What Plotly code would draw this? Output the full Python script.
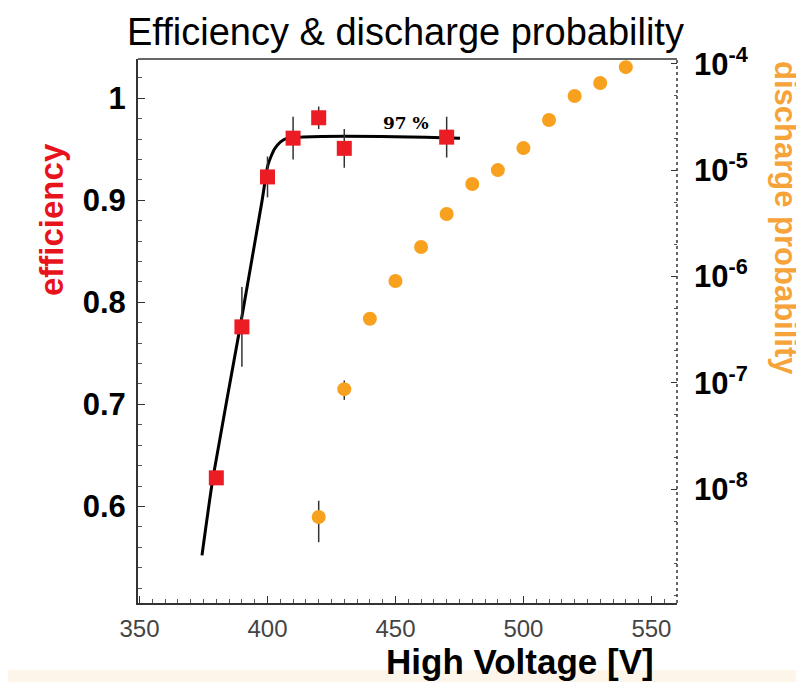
import plotly.graph_objects as go

# ---- data ----
hv_eff = [380, 390, 400, 410, 420, 430, 470]
efficiency = [0.628, 0.776, 0.923, 0.961, 0.981, 0.951, 0.962]
eff_err = [0.005, 0.039, 0.02, 0.021, 0.011, 0.019, 0.02]

hv_fit = [374.4, 378.7, 389.3, 397.9, 400.2, 402.9, 406.8, 475.2]
eff_fit = [0.552, 0.628, 0.776, 0.900, 0.935, 0.951, 0.960, 0.961]

hv_dis = [420, 430, 440, 450, 460, 470, 480, 490, 500, 510, 520, 530, 540]
discharge = [5.46e-9, 8.7e-8, 4.0e-7, 9.06e-7, 1.89e-6, 3.87e-6, 7.4e-6,
             1.0e-5, 1.61e-5, 2.96e-5, 4.98e-5, 6.6e-5, 9.3e-5]
dis_err = [2.3e-9, 1.8e-8, 0, 0, 0, 0, 0, 0, 0, 0, 0, 0, 0]

x_ticks = [350, 400, 450, 500, 550]
eff_ticks = [0.6, 0.7, 0.8, 0.9, 1.0]
eff_ticktext = ["0.6", "0.7", "0.8", "0.9", "1"]
dis_ticks = [1e-8, 1e-7, 1e-6, 1e-5, 1e-4]
dis_ticktext = ["10<sup>-8</sup>", "10<sup>-7</sup>", "10<sup>-6</sup>",
                "10<sup>-5</sup>", "10<sup>-4</sup>"]

RED = "#ec1c24"
ORANGE = "#f7a11e"
SANS = "Liberation Sans, Arial, sans-serif"

fig = go.Figure()

fig.add_trace(go.Scatter(
    x=hv_fit, y=eff_fit, mode="lines",
    line=dict(color="black", width=3, shape="spline", smoothing=0.6),
    showlegend=False, hoverinfo="skip"))

fig.add_trace(go.Scatter(
    x=hv_eff, y=efficiency, mode="markers",
    marker=dict(symbol="square", size=15, color=RED),
    error_y=dict(type="data", array=eff_err, color="#333333", thickness=1.5, width=0),
    showlegend=False))

fig.add_trace(go.Scatter(
    x=hv_dis, y=discharge, mode="markers", yaxis="y2",
    marker=dict(symbol="circle", size=14, color=ORANGE),
    error_y=dict(type="data", array=dis_err, color="#333333", thickness=1.5, width=0),
    showlegend=False))

# page is offset by the 8px body margin of the html page
OFF = 8
PW, PH = 804, 682
W, H = PW - OFF, PH - OFF
# plot box in page pixels
L, R, T, B = 138, 677, 59, 603


def px(x):
    return (x - L) / (R - L)


def py(y):
    return (B - y) / (B - T)


fig.update_layout(
    width=W, height=H,
    margin=dict(l=L - OFF, r=PW - R, t=T - OFF, b=PH - B),
    paper_bgcolor="white", plot_bgcolor="white",
    xaxis=dict(
        range=[349.4, 560.0], tickvals=x_ticks,
        ticks="inside", ticklen=7, tickcolor="#333", tickwidth=1,
        minor=dict(dtick=5, tick0=350, ticks="inside", ticklen=4, tickcolor="#555"),
        showline=True, linecolor="#333", linewidth=2, mirror=False,
        showgrid=False, zeroline=False,
        tickfont=dict(family=SANS, size=24, color="#444444"),
        ticklabelstandoff=3,
    ),
    yaxis=dict(
        range=[0.5053, 1.0386], tickvals=eff_ticks, ticktext=eff_ticktext,
        ticks="inside", ticklen=7, tickcolor="#333", tickwidth=1,
        minor=dict(dtick=0.02, tick0=0, ticks="inside", ticklen=4, tickcolor="#555"),
        showline=True, linecolor="#333", linewidth=2,
        showgrid=False, zeroline=False,
        tickfont=dict(family=SANS, size=31, color="black", weight="bold"),
        ticklabelstandoff=4,
    ),
    yaxis2=dict(
        type="log", range=[-9.072, -3.955], overlaying="y", side="right",
        tickvals=dis_ticks, ticktext=dis_ticktext,
        ticks="inside", ticklen=6, tickcolor="#333",
        minor=dict(ticks="inside", ticklen=3, tickcolor="#555", showgrid=False),
        showline=False, showgrid=False, zeroline=False,
        tickfont=dict(family=SANS, size=31, color="black", weight="bold"),
        ticklabelstandoff=16,
    ),
    shapes=[
        dict(type="line", xref="paper", yref="paper", x0=0, x1=1, y0=1, y1=1,
             line=dict(color="#333", width=1.5)),
        dict(type="line", xref="paper", yref="paper", x0=1, x1=1, y0=0, y1=1,
             line=dict(color="#333", width=1.5, dash="dot")),
        dict(type="rect", xref="paper", yref="paper", layer="below",
             x0=px(OFF), x1=px(PW), y0=py(PH), y1=py(670),
             fillcolor="#fdf5ea", line=dict(width=0)),
    ],
    annotations=[
        dict(text="Efficiency & discharge probability", xref="paper", yref="paper",
             x=px(405), y=py(32), showarrow=False, xanchor="center", yanchor="middle",
             font=dict(family=SANS, size=38, color="black")),
        dict(text="High Voltage [V]", xref="paper", yref="paper",
             x=px(520), y=py(661), showarrow=False, xanchor="center", yanchor="middle",
             font=dict(family=SANS, size=35, color="black", weight="bold")),
        dict(text="efficiency", xref="paper", yref="paper", textangle=-90,
             x=px(52), y=py(220), showarrow=False, xanchor="center", yanchor="middle",
             font=dict(family=SANS, size=33, color="#e8141c", weight="bold")),
        dict(text="discharge probability", xref="paper", yref="paper", textangle=90,
             x=px(785), y=py(218), showarrow=False, xanchor="center", yanchor="middle",
             font=dict(family=SANS, size=31, color="#f6a33a", weight="bold")),
        dict(text="97 %", x=454.1, y=0.976, xref="x", yref="y", showarrow=False,
             font=dict(family="DejaVu Serif", size=17, color="black", weight="bold")),
    ],
)

fig.write_html("out.html")
